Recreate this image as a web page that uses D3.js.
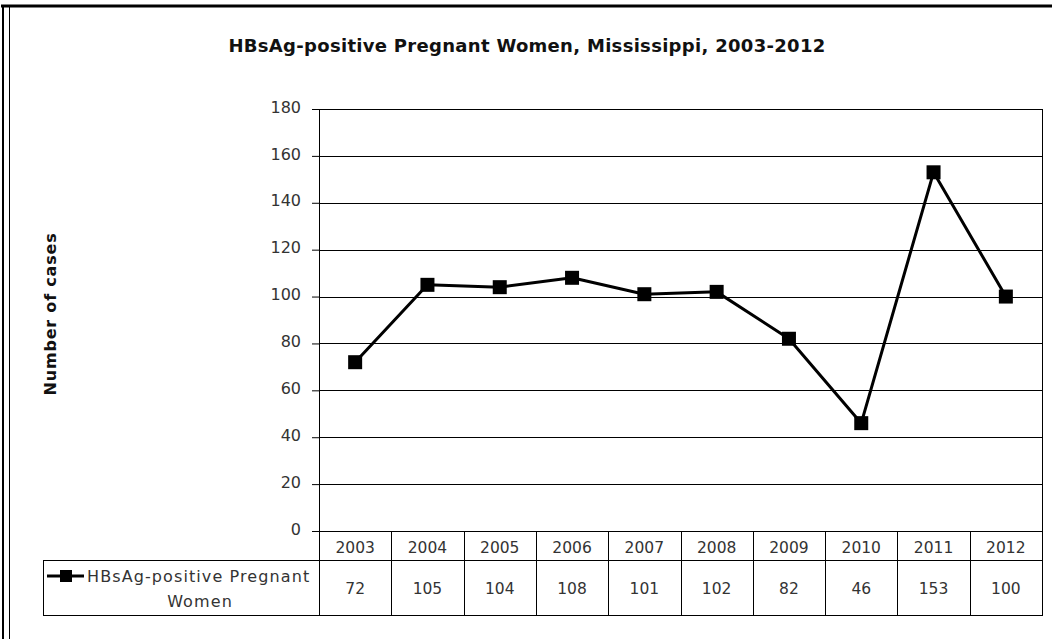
<!DOCTYPE html>
<html>
<head>
<meta charset="utf-8">
<script src="https://cdn.jsdelivr.net/npm/d3@7"></script>
<style>
  body { margin: 0; background: #fff; }
  svg { display: block; }
  text { font-family: "DejaVu Sans", Lato, sans-serif; }
</style>
</head>
<body>
<svg id="svg" width="1052" height="639"></svg>
<script>
var years = ["2003", "2004", "2005", "2006", "2007", "2008", "2009", "2010", "2011", "2012"];
var cases = [72, 105, 104, 108, 101, 102, 82, 46, 153, 100];
var yTicks = [0, 20, 40, 60, 80, 100, 120, 140, 160, 180];
var seriesName = ["HBsAg-positive Pregnant", "Women"];

var svg = d3.select("#svg");

var plot = { left: 319, right: 1042, top: 109, bottom: 531 };
var rowH = { header: 29, data: 55 };
var legendLeft = 43;
var font = "'DejaVu Sans', Lato, sans-serif";

// frame of the picture
svg.append("line").attr("x1", 1).attr("x2", 1052).attr("y1", 6).attr("y2", 6)
  .attr("stroke", "#000").attr("stroke-width", 3);
svg.append("line").attr("x1", 3).attr("x2", 3).attr("y1", 5).attr("y2", 639)
  .attr("stroke", "#000").attr("stroke-width", 2);
svg.append("line").attr("x1", 9.5).attr("x2", 9.5).attr("y1", 6).attr("y2", 639)
  .attr("stroke", "#000").attr("stroke-width", 1);

svg.append("text")
  .attr("x", 527).attr("y", 52)
  .attr("text-anchor", "middle")
  .attr("font-size", 18).attr("font-weight", "bold")
  .attr("letter-spacing", 0.3)
  .attr("fill", "#111")
  .text("HBsAg-positive Pregnant Women, Mississippi, 2003-2012");

var xScale = d3.scaleBand().domain(years).range([plot.left, plot.right]).padding(0);
var yScale = d3.scaleLinear().domain([0, 180]).range([plot.bottom, plot.top]);

// gridlines + ticks
var yAxis = svg.append("g")
  .attr("transform", "translate(" + plot.left + ",0)")
  .call(d3.axisLeft(yScale).tickValues(yTicks).tickSize(7).tickPadding(11));
yAxis.select(".domain").remove();
yAxis.selectAll("line").attr("stroke", "#000");
yAxis.selectAll("text")
  .attr("font-size", 16).attr("fill", "#333")
  .attr("dy", "0.2em")
  .style("font-family", font);

svg.append("g").selectAll("line")
  .data(yTicks)
  .enter()
  .append("line")
  .attr("x1", plot.left).attr("x2", plot.right)
  .attr("y1", function (d) { return Math.round(yScale(d)) + 0.5; })
  .attr("y2", function (d) { return Math.round(yScale(d)) + 0.5; })
  .attr("stroke", "#000").attr("stroke-width", 1);

svg.append("line").attr("x1", plot.left + 0.5).attr("x2", plot.left + 0.5)
  .attr("y1", plot.top).attr("y2", plot.bottom + rowH.header + rowH.data)
  .attr("stroke", "#000");
svg.append("line").attr("x1", plot.right + 0.5).attr("x2", plot.right + 0.5)
  .attr("y1", plot.top).attr("y2", plot.bottom + rowH.header + rowH.data)
  .attr("stroke", "#000");

svg.append("text")
  .attr("transform", "translate(56," + ((plot.top + plot.bottom) / 2 - 6) + ") rotate(-90)")
  .attr("text-anchor", "middle")
  .attr("font-size", 16).attr("font-weight", "bold")
  .attr("letter-spacing", 0.8)
  .attr("fill", "#111")
  .text("Number of cases");

// data table
var tbl = svg.append("g");
var rowTop = plot.bottom;
var rowMid = plot.bottom + rowH.header;
var rowBot = rowMid + rowH.data;

tbl.append("line").attr("x1", plot.left).attr("x2", plot.right + 1)
  .attr("y1", rowTop + 0.5).attr("y2", rowTop + 0.5).attr("stroke", "#000");
tbl.append("line").attr("x1", legendLeft).attr("x2", plot.right + 1)
  .attr("y1", rowMid + 0.5).attr("y2", rowMid + 0.5).attr("stroke", "#000");
tbl.append("line").attr("x1", legendLeft).attr("x2", plot.right + 1)
  .attr("y1", rowBot + 0.5).attr("y2", rowBot + 0.5).attr("stroke", "#000");
tbl.append("line").attr("x1", legendLeft + 0.5).attr("x2", legendLeft + 0.5)
  .attr("y1", rowMid).attr("y2", rowBot + 1).attr("stroke", "#000");

tbl.selectAll(".sep")
  .data(years.slice(1))
  .enter()
  .append("line")
  .attr("x1", function (d) { return Math.round(xScale(d)) + 0.5; })
  .attr("x2", function (d) { return Math.round(xScale(d)) + 0.5; })
  .attr("y1", rowTop).attr("y2", rowBot)
  .attr("stroke", "#000");

tbl.selectAll(".yr")
  .data(years)
  .enter()
  .append("text")
  .attr("x", function (d) { return xScale(d) + xScale.bandwidth() / 2; })
  .attr("y", rowTop + 22)
  .attr("text-anchor", "middle")
  .attr("font-size", 15.5).attr("fill", "#333")
  .text(function (d) { return d; });

tbl.selectAll(".val")
  .data(cases)
  .enter()
  .append("text")
  .attr("x", function (d, i) { return xScale(years[i]) + xScale.bandwidth() / 2; })
  .attr("y", rowMid + 34)
  .attr("text-anchor", "middle")
  .attr("font-size", 15.5).attr("fill", "#333")
  .text(function (d) { return d; });

// legend key
tbl.append("line").attr("x1", 47).attr("x2", 84).attr("y1", 576).attr("y2", 576)
  .attr("stroke", "#000").attr("stroke-width", 3);
tbl.append("rect").attr("x", 60).attr("y", 570).attr("width", 12).attr("height", 12).attr("fill", "#000");
tbl.append("text").attr("x", 87).attr("y", 582)
  .attr("font-size", 16).attr("letter-spacing", 1.1).attr("fill", "#333")
  .text(seriesName[0]);
tbl.append("text").attr("x", 200).attr("y", 607)
  .attr("text-anchor", "middle").attr("font-size", 16).attr("letter-spacing", 1.1).attr("fill", "#333")
  .text(seriesName[1]);

// series line + markers
var line = d3.line()
  .x(function (d, i) { return xScale(years[i]) + xScale.bandwidth() / 2; })
  .y(function (d) { return yScale(d); });

svg.append("path")
  .datum(cases)
  .attr("d", line)
  .attr("fill", "none")
  .attr("stroke", "#000")
  .attr("stroke-width", 3)
  .attr("stroke-linejoin", "round");

svg.append("g").selectAll("rect")
  .data(cases)
  .enter()
  .append("rect")
  .attr("x", function (d, i) { return xScale(years[i]) + xScale.bandwidth() / 2 - 7; })
  .attr("y", function (d) { return yScale(d) - 7; })
  .attr("width", 14).attr("height", 14)
  .attr("fill", "#000");
</script>
</body>
</html>
